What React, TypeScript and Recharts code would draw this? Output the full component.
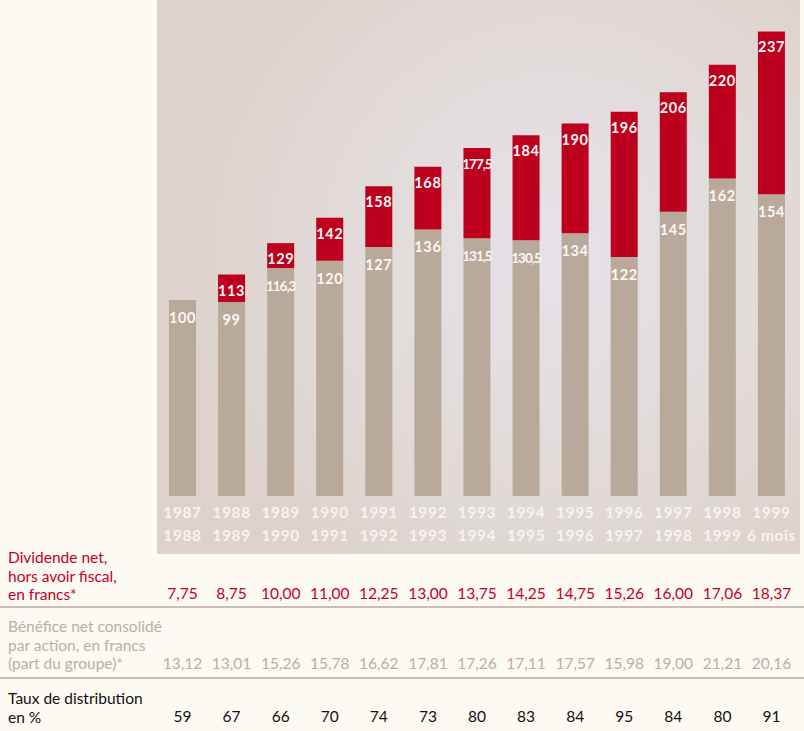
import React from 'react';
import { BarChart, Bar, XAxis, YAxis, LabelList } from 'recharts';

const periodStart = ['1987', '1988', '1989', '1990', '1991', '1992', '1993', '1994', '1995', '1996', '1997', '1998', '1999'];
const periodEnd = ['1988', '1989', '1990', '1991', '1992', '1993', '1994', '1995', '1996', '1997', '1998', '1999', '6 mois'];
const dividendIndex = [100, 113, 129, 142, 158, 168, 177.5, 184, 190, 196, 206, 220, 237];
const beneficeIndex = [100, 99, 116.3, 120, 127, 136, 131.5, 130.5, 134, 122, 145, 162, 154];
const dividendFrancs = ['7,75', '8,75', '10,00', '11,00', '12,25', '13,00', '13,75', '14,25', '14,75', '15,26', '16,00', '17,06', '18,37'];
const beneficeFrancs = ['13,12', '13,01', '15,26', '15,78', '16,62', '17,81', '17,26', '17,11', '17,57', '15,98', '19,00', '21,21', '20,16'];
const tauxDistribution = [59, 67, 66, 70, 74, 73, 80, 83, 84, 95, 84, 80, 91];

const RED = '#bd001d';
const BEIGE = '#b9a99b';
const RED_TEXT = '#c3001f';
const GREY_TEXT = '#bcaea3';
const FONT = 'Lato, "Open Sans", sans-serif';

const data = periodStart.map((p, i) => ({
  period: p,
  benefice: beneficeIndex[i],
  extra: dividendIndex[i] - beneficeIndex[i],
  dividend: dividendIndex[i],
}));

const fmt = (v: number) => String(v).replace('.', ',');

function barLabel(offset: number) {
  return (props: any) => {
    const vb = props.viewBox || props;
    const { x, y, width, height } = vb;
    if (!height || height < 1) return null;
    const text = fmt(props.value);
    const long = text.length > 3;
    return (
      <text
        x={x + width / 2}
        y={y + offset}
        textAnchor="middle"
        fill="#fbf7f3"
        fontFamily={FONT}
        fontWeight={700}
        fontSize={long ? 13.5 : 14.5}
        letterSpacing={long ? -1 : 0.6}
      >
        {text}
      </text>
    );
  };
}

function TableTick(props: any) {
  const { x, payload } = props;
  const i = payload.index;
  const common = { x, textAnchor: 'middle' as const, fontFamily: FONT };
  return (
    <g>
      <text {...common} y={518} fill="#f7f3ef" fontSize={15.5} fontWeight={700} letterSpacing={0.6}>
        {periodStart[i]}
      </text>
      <text {...common} y={541} fill="#f7f3ef" fontSize={15.5} fontWeight={700} letterSpacing={0.6}>
        {periodEnd[i]}
      </text>
      <text {...common} y={599} fill={RED_TEXT} fontSize={15.5}>
        {dividendFrancs[i]}
      </text>
      <text {...common} y={669} fill={GREY_TEXT} fontSize={15.5}>
        {beneficeFrancs[i]}
      </text>
      <text {...common} y={722} fill="#111" fontSize={15.5}>
        {tauxDistribution[i]}
      </text>
    </g>
  );
}

const rowLabel: React.CSSProperties = {
  position: 'absolute',
  left: 8,
  fontFamily: FONT,
  fontSize: 15.5,
  lineHeight: '18.5px',
  whiteSpace: 'nowrap',
};

export default function App() {
  return (
    <div style={{ position: 'absolute', left: 0, top: 0, width: 804, height: 731, background: '#fdf9f3', overflow: 'hidden' }}>
      <div
        style={{
          position: 'absolute',
          left: 157,
          top: 0,
          width: 643,
          height: 554,
          background: 'radial-gradient(circle at 62% 46%, #e6e2e9 0%, #e2dcdc 35%, #ddd3cc 75%)',
        }}
      />
      <div style={{ position: 'absolute', left: 0, top: 606, width: 804, height: 1.5, background: '#cbbdb2' }} />
      <div style={{ position: 'absolute', left: 0, top: 677, width: 804, height: 1.5, background: '#cbbdb2' }} />
      <div style={{ ...rowLabel, top: 548, color: RED_TEXT }}>
        Dividende net,<br />hors avoir fiscal,<br />en francs*
      </div>
      <div style={{ ...rowLabel, top: 617, color: GREY_TEXT }}>
        Bénéfice net consolidé<br />par action, en francs<br />(part du groupe)*
      </div>
      <div style={{ ...rowLabel, top: 689, color: '#111' }}>
        Taux de distribution<br />en %
      </div>
      <div style={{ position: 'absolute', left: 0, top: 0 }}>
        <BarChart width={804} height={731} data={data} margin={{ top: 6, right: 8, left: 158, bottom: 0 }} barSize={27}>
          <YAxis hide domain={[0, 250]} />
          <XAxis dataKey="period" height={235} interval={0} axisLine={false} tickLine={false} tick={TableTick} />
          <Bar dataKey="benefice" stackId="a" fill={BEIGE} isAnimationActive={false}>
            <LabelList dataKey="benefice" content={barLabel(23)} />
          </Bar>
          <Bar dataKey="extra" stackId="a" fill={RED} isAnimationActive={false}>
            <LabelList dataKey="dividend" content={barLabel(21)} />
          </Bar>
        </BarChart>
      </div>
    </div>
  );
}
